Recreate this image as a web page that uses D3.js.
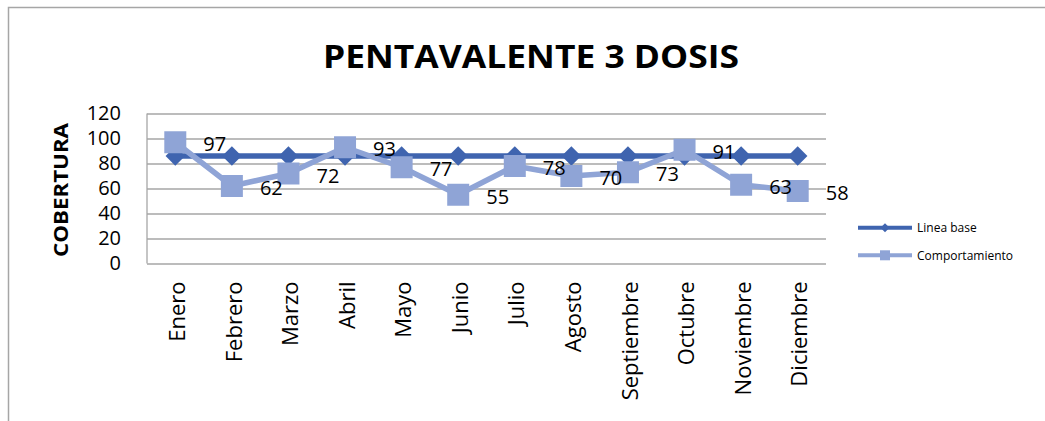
<!DOCTYPE html>
<html>
<head>
<meta charset="utf-8">
<script src="https://cdn.jsdelivr.net/npm/d3@7"></script>
<style>
  body { margin: 0; background: #fff; overflow: hidden; }
  svg { display: block; font-family: "Open Sans", sans-serif; }
</style>
</head>
<body>
<svg id="chart" width="1045" height="421"></svg>
<script>
var months = ['Enero', 'Febrero', 'Marzo', 'Abril', 'Mayo', 'Junio', 'Julio',
  'Agosto', 'Septiembre', 'Octubre', 'Noviembre', 'Diciembre'];
var lineaBase = [86, 86, 86, 86, 86, 86, 86, 86, 86, 86, 86, 86];
var comportamiento = [97, 62, 72, 93, 77, 55, 78, 70, 73, 91, 63, 58];
var yTicks = [0, 20, 40, 60, 80, 100, 120];
var seriesNames = ['Linea base', 'Comportamiento'];

var baseColor = '#3f64af';
var compColor = '#8fa4d6';
var gridColor = '#a6a6a6';

var svg = d3.select('#chart');

// outer chart frame: only top and left edges are inside the picture
svg.append('path')
  .attr('d', 'M8.5,421V7.5H1045')
  .attr('fill', 'none')
  .attr('stroke', gridColor)
  .attr('stroke-width', 1.5);

var plot = { left: 147, right: 826, top: 113.5, bottom: 263.5 };

var x = d3.scaleBand().domain(months).range([plot.left, plot.right]);
var y = d3.scaleLinear().domain([0, 120]).range([plot.bottom, plot.top]);

svg.append('text')
  .attr('x', 531).attr('y', 68)
  .attr('text-anchor', 'middle')
  .attr('font-size', 32)
  .attr('font-weight', 'bold')
  .attr('textLength', 416)
  .attr('lengthAdjust', 'spacingAndGlyphs')
  .text('PENTAVALENTE 3 DOSIS');

// gridlines
var grid = svg.append('g')
  .attr('transform', 'translate(' + plot.left + ',0)')
  .call(d3.axisLeft(y).tickValues(yTicks).tickSize(-(plot.right - plot.left)).tickFormat(''));
grid.select('.domain').remove();
grid.selectAll('line').attr('stroke', gridColor).attr('stroke-width', 1.3);

// left edge of plot
svg.append('line')
  .attr('x1', plot.left).attr('x2', plot.left)
  .attr('y1', plot.top).attr('y2', plot.bottom)
  .attr('stroke', gridColor).attr('stroke-width', 1.3);

// y tick labels
var yAxis = svg.append('g')
  .attr('transform', 'translate(' + (plot.left - 26) + ',0)')
  .call(d3.axisLeft(y).tickValues(yTicks).tickSize(0).tickPadding(0));
yAxis.select('.domain').remove();
yAxis.selectAll('text')
  .attr('font-size', 20)
  .attr('font-family', '"Open Sans", sans-serif')
  .attr('fill', '#000');

svg.append('text')
  .attr('transform', 'translate(68,190) rotate(-90)')
  .attr('text-anchor', 'middle')
  .attr('font-size', 19)
  .attr('font-weight', 'bold')
  .attr('textLength', 134)
  .attr('lengthAdjust', 'spacingAndGlyphs')
  .text('COBERTURA');

// category labels
var xAxis = svg.append('g')
  .attr('transform', 'translate(0,' + plot.bottom + ')')
  .call(d3.axisBottom(x).tickSize(0).tickPadding(0));
xAxis.select('.domain').remove();
xAxis.selectAll('text')
  .attr('font-size', 22)
  .attr('font-family', '"Open Sans", sans-serif')
  .attr('fill', '#000')
  .attr('text-anchor', 'end')
  .attr('dy', '0.35em')
  .attr('transform', 'translate(2,18) rotate(-90)');

var cx = function (d, i) { return x(months[i]) + x.bandwidth() / 2; };

function drawLine(values, color) {
  var line = d3.line().x(cx).y(function (d) { return y(d); });
  svg.append('path')
    .datum(values)
    .attr('d', line)
    .attr('fill', 'none')
    .attr('stroke', color)
    .attr('stroke-width', 5.5)
    .attr('stroke-linejoin', 'round');
}

function drawMarkers(values, color, size, rotate) {
  svg.append('g').selectAll('path')
    .data(values)
    .join('path')
    .attr('d', d3.symbol().type(d3.symbolSquare).size(size))
    .attr('transform', function (d, i) {
      return 'translate(' + cx(d, i) + ',' + y(d) + ')' + (rotate ? ' rotate(45)' : '');
    })
    .attr('fill', color);
}

drawLine(lineaBase, baseColor);
drawMarkers(lineaBase, baseColor, 190, true);
drawLine(comportamiento, compColor);
drawMarkers(comportamiento, compColor, 484, false);

// data labels for Comportamiento
svg.append('g').selectAll('text')
  .data(comportamiento)
  .join('text')
  .attr('x', function (d, i) { return cx(d, i) + 28; })
  .attr('y', function (d) { return y(d) + 2; })
  .attr('dy', '0.35em')
  .attr('font-size', 20)
  .attr('fill', '#000')
  .text(function (d) { return d; });

// legend
var legend = svg.append('g').selectAll('g')
  .data(seriesNames)
  .join('g')
  .attr('transform', function (d, i) { return 'translate(858,' + (227.7 + i * 27.6) + ')'; });
legend.append('line')
  .attr('x1', 0).attr('x2', 54)
  .attr('stroke', function (d, i) { return i ? compColor : baseColor; })
  .attr('stroke-width', 4);
legend.append('path')
  .attr('d', function (d, i) { return d3.symbol().type(d3.symbolSquare).size(i ? 100 : 40)(); })
  .attr('transform', function (d, i) { return 'translate(27,0)' + (i ? '' : ' rotate(45)'); })
  .attr('fill', function (d, i) { return i ? compColor : baseColor; });
legend.append('text')
  .attr('x', 59)
  .attr('dy', '0.35em')
  .attr('font-size', 12)
  .text(function (d) { return d; });
</script>
</body>
</html>
